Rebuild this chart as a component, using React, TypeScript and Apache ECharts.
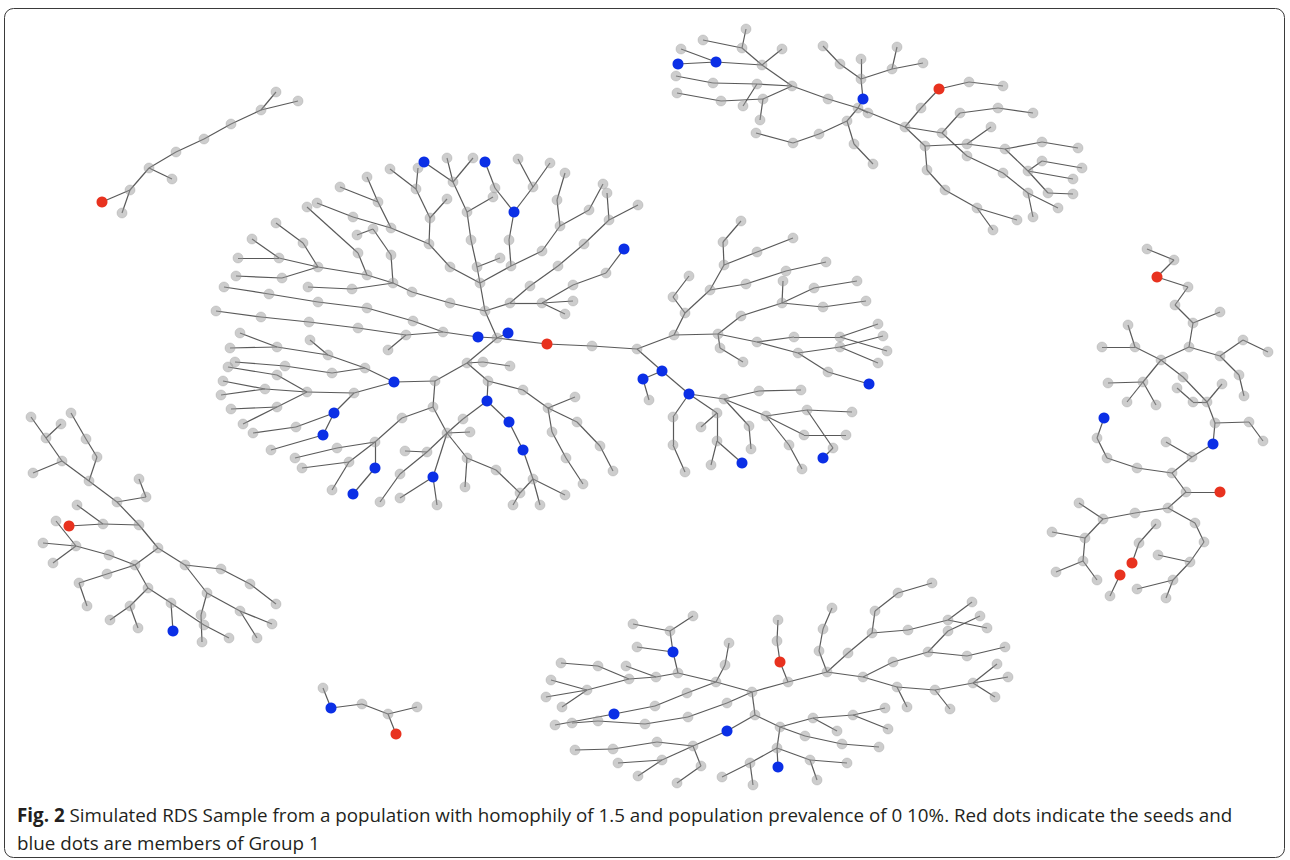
import React, { useEffect, useRef } from "react";
import * as echarts from "echarts";

type P = [number, number];

// Branch chains (each consecutive pair of points is one referral link)
const chainsSmallTop: P[][] = [
  [[102,202],[130,190],[149,168],[176,152],[204,139],[231,124],[261,110],[276,92]],
  [[130,190],[122,213]],
  [[149,168],[172,179]],
  [[261,110],[298,101]],
];

const chainsTopRight: P[][] = [
  [[678,64],[716,62],[762,65],[792,86],[828,99],[858,108],[905,127]],
  [[681,49],[716,62]],
  [[703,40],[742,48],[762,65]],
  [[746,29],[742,48]],
  [[782,49],[762,65]],
  [[676,76],[713,83],[757,84],[792,86]],
  [[757,84],[743,106]],
  [[677,93],[721,101],[763,99],[792,86]],
  [[763,99],[760,120]],
  [[858,108],[863,99],[861,79],[861,59]],
  [[858,108],[868,113]],
  [[861,79],[840,64],[823,46]],
  [[861,79],[892,69],[897,47]],
  [[892,69],[923,63]],
  [[858,108],[847,121],[819,134],[793,143],[756,133]],
  [[847,121],[854,144],[873,164]],
  [[905,127],[921,108],[939,89],[969,82],[1003,86]],
  [[905,127],[942,133],[960,113],[998,108],[1033,113]],
  [[905,127],[925,146],[927,170],[945,190],[977,208],[1017,220]],
  [[977,208],[993,230]],
  [[925,146],[967,144],[1005,149],[1042,142],[1078,148]],
  [[967,144],[991,127]],
  [[942,133],[967,156],[1003,173],[1028,193],[1058,208]],
  [[1028,193],[1033,217]],
  [[1005,149],[1028,171],[1048,193],[1073,194]],
  [[1028,171],[1042,161],[1082,168]],
  [[1028,171],[1073,179]],
];

const chainsMain: P[][] = [
  [[424,162],[453,182],[467,212],[471,240],[477,267],[480,283],[485,311],[497,338]],
  [[447,158],[453,182]],
  [[473,158],[453,182]],
  [[467,212],[493,197]],
  [[418,168],[416,189],[430,218],[429,244],[450,267],[480,283]],
  [[390,169],[416,189]],
  [[447,199],[430,218]],
  [[367,177],[378,202],[391,228],[429,244]],
  [[340,187],[378,202]],
  [[317,203],[353,217],[391,228]],
  [[357,235],[373,229],[391,255],[393,283]],
  [[307,207],[358,253],[367,275],[393,283],[412,292],[450,303],[485,311]],
  [[276,223],[303,243],[318,267],[367,275]],
  [[252,239],[279,258],[318,267]],
  [[238,258],[279,258]],
  [[236,276],[282,278],[318,267]],
  [[308,287],[352,289],[393,283]],
  [[224,287],[269,294],[318,302],[367,308],[413,321],[443,332]],
  [[216,311],[261,317],[309,322],[358,328],[406,335],[443,332],[478,337],[497,338]],
  [[406,335],[388,350]],
  [[477,267],[500,258]],
  [[485,162],[495,188],[514,212],[509,240],[511,266],[480,283]],
  [[514,212],[533,187],[518,159]],
  [[533,187],[550,163]],
  [[511,266],[542,251],[560,226],[589,210],[603,184]],
  [[560,226],[557,200],[565,173]],
  [[485,311],[510,303],[530,286],[558,266],[584,244],[609,220],[638,205]],
  [[609,220],[607,193]],
  [[510,303],[542,303],[573,301]],
  [[542,303],[565,314]],
  [[542,303],[573,285],[606,273],[624,249]],
  [[497,338],[508,333]],
  [[497,338],[547,344],[592,346],[637,349]],
  [[497,338],[467,363],[483,362],[510,366]],
  [[394,382],[435,381],[467,363]],
  [[240,333],[277,347],[328,355],[365,368],[394,382]],
  [[230,348],[277,347]],
  [[310,340],[328,355]],
  [[235,362],[285,366],[332,373],[365,368]],
  [[228,367],[277,375],[307,392],[354,393],[394,382]],
  [[223,381],[265,389],[307,392]],
  [[221,395],[265,389]],
  [[231,409],[277,407],[307,392]],
  [[243,424],[277,407]],
  [[253,433],[296,427],[334,413],[354,393]],
  [[271,450],[323,435],[334,413]],
  [[295,458],[337,448],[375,442],[402,418],[433,407],[435,381]],
  [[302,468],[349,462],[375,442]],
  [[349,462],[332,490]],
  [[375,442],[375,468],[353,494]],
  [[433,407],[447,433],[463,419],[487,401]],
  [[447,433],[470,432]],
  [[447,433],[467,458],[496,470],[520,493],[513,505]],
  [[467,458],[465,487]],
  [[447,433],[427,452],[405,451]],
  [[427,452],[400,474],[380,502]],
  [[447,433],[433,477],[437,505]],
  [[433,477],[400,498]],
  [[467,363],[488,381],[523,390],[548,408],[577,422],[600,446],[613,471]],
  [[548,408],[575,397]],
  [[548,408],[552,432],[566,458],[583,484]],
  [[488,381],[487,401],[509,422],[523,450],[533,479],[540,505]],
  [[533,479],[565,495]],
  [[533,479],[520,493]],
  [[637,349],[674,335],[718,334],[741,316],[782,303],[814,288],[857,281]],
  [[782,303],[783,281]],
  [[782,303],[823,307],[866,301]],
  [[674,335],[685,313],[710,290],[724,265],[723,242],[741,221]],
  [[685,313],[673,297],[689,276]],
  [[710,290],[746,284],[786,271],[826,262]],
  [[724,265],[757,252],[793,238]],
  [[718,334],[720,348],[743,362]],
  [[718,334],[757,342],[794,337],[840,337],[878,324]],
  [[840,337],[887,351]],
  [[757,342],[798,353],[840,347],[883,336]],
  [[840,347],[878,363]],
  [[798,353],[828,372],[869,384]],
  [[637,349],[662,371],[643,379],[649,400]],
  [[662,371],[689,394],[724,399],[759,391],[801,390]],
  [[724,399],[766,416],[807,410],[852,412]],
  [[766,416],[804,435],[846,435]],
  [[689,394],[717,413],[701,427]],
  [[717,413],[717,441],[711,465]],
  [[717,441],[742,463]],
  [[724,399],[749,426],[751,449]],
  [[766,416],[789,445],[802,469]],
  [[807,410],[833,448],[823,458]],
  [[689,394],[673,417],[673,445],[685,472]],
];

const chainsLeft: P[][] = [
  [[31,417],[46,438],[62,461],[89,481],[117,502],[139,525],[158,548],[185,565],[207,593],[240,611],[272,624]],
  [[46,438],[61,424]],
  [[62,461],[33,473]],
  [[71,413],[86,439],[97,457],[89,481]],
  [[117,502],[146,497],[139,479]],
  [[139,525],[103,524],[69,526]],
  [[77,505],[103,524]],
  [[56,521],[76,546],[109,555],[135,565],[158,548]],
  [[43,543],[76,546],[53,563]],
  [[135,565],[107,574],[79,583],[87,606]],
  [[135,565],[148,588],[130,606],[110,620]],
  [[130,606],[138,628]],
  [[148,588],[171,603],[204,625],[229,638]],
  [[171,603],[173,631]],
  [[185,565],[221,569],[250,584],[276,604]],
  [[240,611],[257,638]],
  [[207,593],[201,615],[202,642]],
];

const chainsRight: P[][] = [
  [[1147,249],[1174,260],[1157,277],[1188,287],[1175,305],[1193,323],[1189,347],[1161,360]],
  [[1193,323],[1220,312]],
  [[1189,347],[1220,356],[1243,340],[1268,352]],
  [[1220,356],[1239,375],[1244,396]],
  [[1128,325],[1135,347],[1161,360]],
  [[1102,347],[1135,347]],
  [[1161,360],[1143,382],[1108,383]],
  [[1143,382],[1127,402]],
  [[1143,382],[1156,405]],
  [[1161,360],[1183,377],[1207,402],[1215,423],[1213,444]],
  [[1177,388],[1193,402],[1207,402]],
  [[1207,402],[1222,384]],
  [[1215,423],[1249,422],[1263,441]],
  [[1213,444],[1192,457],[1172,473],[1137,468],[1107,458],[1097,438],[1104,418]],
  [[1166,442],[1192,457]],
  [[1172,473],[1186,492],[1220,492]],
  [[1186,492],[1168,508],[1135,513],[1103,519],[1085,538],[1083,561],[1097,580]],
  [[1103,519],[1079,503]],
  [[1085,538],[1052,532]],
  [[1083,561],[1056,572]],
  [[1168,508],[1195,523],[1204,542],[1190,562],[1173,580],[1137,589]],
  [[1190,562],[1158,555]],
  [[1173,580],[1166,598]],
  [[1132,563],[1139,543],[1156,524]],
  [[1120,575],[1110,596]],
];

const chainsBottom: P[][] = [
  [[752,692],[788,682],[827,672],[819,651],[823,629],[832,608]],
  [[788,682],[780,662],[777,641],[778,620]],
  [[827,672],[848,653],[872,633],[875,611],[898,593],[932,583]],
  [[872,633],[908,630],[948,620],[972,602]],
  [[948,620],[987,628]],
  [[827,672],[863,677],[893,662],[928,652],[948,631],[980,616]],
  [[928,652],[967,656],[1005,647]],
  [[863,677],[897,687],[935,690],[973,683],[997,664]],
  [[973,683],[1008,677]],
  [[973,683],[995,697]],
  [[897,687],[907,707]],
  [[935,690],[950,709]],
  [[752,692],[755,715],[780,727],[813,718],[853,715],[885,708]],
  [[813,718],[837,731]],
  [[853,715],[888,729]],
  [[780,727],[805,736],[842,744],[879,747]],
  [[780,727],[777,748],[778,767]],
  [[777,748],[810,760],[847,763]],
  [[810,760],[817,780]],
  [[777,748],[750,763],[722,777]],
  [[750,763],[753,785]],
  [[755,715],[727,731],[693,746],[657,742],[613,749],[575,750]],
  [[693,746],[701,766],[677,783]],
  [[693,746],[662,760],[618,763]],
  [[662,760],[638,776]],
  [[752,692],[716,682],[725,665],[729,643]],
  [[716,682],[678,673],[656,677],[629,679],[598,666],[561,663]],
  [[656,677],[626,666]],
  [[629,679],[587,690],[551,680]],
  [[587,690],[546,697]],
  [[587,690],[562,707]],
  [[678,673],[673,652],[670,631],[633,624]],
  [[670,631],[693,616]],
  [[673,652],[637,647]],
  [[716,682],[687,693],[655,706],[614,714],[555,725]],
  [[752,692],[727,703],[688,717],[645,724],[598,721],[572,723]],
];

const chainsSmallBottom: P[][] = [
  [[323,688],[331,708],[362,704],[388,714],[417,707]],
  [[388,714],[396,734]],
];

// Seeds (red) and Group 1 members (blue)
const seeds: P[] = [
  [102,202],[939,89],[547,344],[69,526],[1157,277],[1220,492],[1132,563],[1120,575],[780,662],[396,734],
];
const group1: P[] = [
  [678,64],[716,62],[863,99],
  [424,162],[485,162],[514,212],[624,249],[478,337],[508,333],[394,382],[334,413],[323,435],
  [375,468],[353,494],[433,477],[487,401],[509,422],[523,450],[662,371],[643,379],[689,394],
  [869,384],[742,463],[823,458],
  [173,631],
  [1213,444],[1104,418],
  [673,652],[614,714],[727,731],[778,767],
  [331,708],
];

const captionLine1 = "Simulated RDS Sample from a population with homophily of 1.5 and population prevalence of 0 10%. Red dots indicate the seeds and";
const captionLine2 = "blue dots are members of Group 1";

const allChains: P[][] = [
  ...chainsSmallTop, ...chainsTopRight, ...chainsMain, ...chainsLeft,
  ...chainsRight, ...chainsBottom, ...chainsSmallBottom,
];

function buildGraph() {
  const key = (p: P) => p[0] + "," + p[1];
  const seedSet = new Set(seeds.map(key));
  const blueSet = new Set(group1.map(key));
  const index = new Map<string, number>();
  const nodes: any[] = [];
  const links: any[] = [];
  const linkSet = new Set<string>();
  const addNode = (p: P) => {
    const k = key(p);
    if (index.has(k)) return index.get(k)!;
    const i = nodes.length;
    index.set(k, i);
    const isSeed = seedSet.has(k);
    const isBlue = blueSet.has(k);
    nodes.push({
      name: "n" + i,
      value: [p[0], p[1]],
      symbolSize: isSeed || isBlue ? 11 : 10,
      itemStyle: isSeed
        ? { color: "#e8321f", opacity: 1 }
        : isBlue
        ? { color: "#0b2fe6", opacity: 1 }
        : { color: "rgba(155,155,155,0.5)", borderColor: "rgba(145,145,145,0.6)", borderWidth: 0.5 },
      z: isSeed || isBlue ? 3 : 2,
    });
    return i;
  };
  for (const ch of allChains) {
    for (let j = 0; j < ch.length; j++) {
      const a = addNode(ch[j]);
      if (j > 0) {
        const b = index.get(key(ch[j - 1]))!;
        const lk = Math.min(a, b) + "-" + Math.max(a, b);
        if (!linkSet.has(lk)) {
          linkSet.add(lk);
          links.push({ source: b, target: a });
        }
      }
    }
  }
  const order = nodes.map((_, i) => i).sort((x, y) => (nodes[x].z || 0) - (nodes[y].z || 0));
  const remap = new Map<number, number>();
  order.forEach((oi, ni) => remap.set(oi, ni));
  const sortedNodes = order.map((oi) => nodes[oi]);
  const sortedLinks = links.map((l) => ({ source: remap.get(l.source)!, target: remap.get(l.target)! }));
  return { nodes: sortedNodes, links: sortedLinks };
}

export default function App() {
  const ref = useRef<HTMLDivElement>(null);
  useEffect(() => {
    document.body.style.margin = "0";
    const chart = echarts.init(ref.current!, undefined, { renderer: "svg" });
    const { nodes, links } = buildGraph();
    chart.setOption({
      animation: false,
      backgroundColor: "#ffffff",
      grid: { left: 0, right: 0, top: 0, bottom: 0 },
      xAxis: { type: "value", min: 0, max: 1290, show: false },
      yAxis: { type: "value", min: 0, max: 860, inverse: true, show: false },
      series: [
        {
          type: "graph",
          coordinateSystem: "cartesian2d",
          layout: "none",
          symbol: "circle",
          data: nodes,
          links,
          label: { show: false },
          emphasis: { disabled: true },
          lineStyle: { color: "#505050", width: 1.2, opacity: 0.95, curveness: 0 },
        },
      ],
      graphic: [
        {
          type: "rect",
          shape: { x: 4.5, y: 8.5, width: 1280, height: 849, r: 9 },
          style: { fill: "none", stroke: "#3a3a3a", lineWidth: 1 },
          silent: true,
        },
        {
          type: "text",
          x: 17,
          y: 815,
          style: {
            text: "{b|Fig. 2} " + captionLine1,
            rich: {
              b: { fontWeight: "bold", fontFamily: "Open Sans", fontSize: 18.8, fill: "#231f20" },
            },
            fontFamily: "Open Sans",
            fontSize: 18.8,
            fill: "#231f20",
            verticalAlign: "middle",
          },
        },
        {
          type: "text",
          x: 17,
          y: 843,
          style: {
            text: captionLine2,
            fontFamily: "Open Sans",
            fontSize: 18.8,
            fill: "#231f20",
            verticalAlign: "middle",
          },
        },
      ],
    });
    return () => chart.dispose();
  }, []);
  return <div ref={ref} style={{ width: 1290, height: 860 }} />;
}
